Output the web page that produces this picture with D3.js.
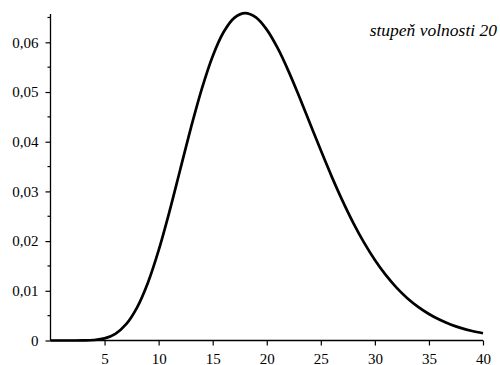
<!DOCTYPE html>
<html><head><meta charset="utf-8">
<script src="https://cdn.jsdelivr.net/npm/d3@7"></script>
</head><body style="margin:0">
<svg id="c" width="500" height="365" font-family="Liberation Serif"></svg>
<script>
const xs = [0,1,2,3,4,5,6,7,8,9,10,11,12,13,14,15,16,17,18,19,20,21,22,23,24,25,26,27,28,29,30,31,32,33,34,35,36,37,38,39,40];
const ys = [0,0,0.0000005,0.0000118,0.0000953,0.000431,0.00135,0.00328,0.00662,0.01158,0.01813,0.02593,0.03441,0.04290,0.05070,0.05722,0.06203,0.06493,0.06587,0.06500,0.06255,0.05886,0.05426,0.04910,0.04368,0.03826,0.03303,0.02814,0.02367,0.01969,0.01620,0.01320,0.01065,0.00852,0.00677,0.00533,0.00416,0.00323,0.00249,0.00191,0.00145];
const xTicks = [5,10,15,20,25,30,35,40];
const yTicks = [0,0.01,0.02,0.03,0.04,0.05,0.06];
const yMinor = [0.005,0.015,0.025,0.035,0.045,0.055,0.065];
const title = "stupeň volnosti 20";

const FONT = "Liberation Serif";
const svg = d3.select("#c");
const x = d3.scaleLinear().domain([0,40]).range([50.5,483]);
const y = d3.scaleLinear().domain([0,0.0657]).range([340.5,14]);

// x axis
const gx = svg.append("g").attr("transform","translate(0,340.5)")
  .call(d3.axisBottom(x).tickValues(xTicks).tickSize(5).tickFormat(d3.format("d")));
gx.attr("font-family",FONT).style("font-family",FONT);
gx.select(".domain").attr("d", `M${x(0)},0H${x(40)}`).attr("stroke","#000").attr("stroke-width",1.3);
gx.selectAll("text").attr("font-family",FONT).style("font-family",FONT).attr("font-size",15).attr("fill","#000")
  .attr("dy",null).attr("y",23);
gx.selectAll("line").attr("stroke-width",1.2);

// y axis
const fmt = d => d===0 ? "0" : d3.format(".2f")(d).replace(".",",");
const gy = svg.append("g").attr("transform","translate(50.5,0)")
  .call(d3.axisLeft(y).tickValues(yTicks).tickSize(5).tickPadding(7).tickFormat(fmt));
gy.attr("font-family",FONT).style("font-family",FONT);
gy.select(".domain").attr("d", `M0,${y(0)}V${y(0.0657)}`).attr("stroke","#000").attr("stroke-width",1.3);
gy.selectAll("text").attr("font-family",FONT).style("font-family",FONT).attr("font-size",15).attr("fill","#000");
gy.selectAll("line").attr("stroke-width",1.2);
svg.append("g").attr("transform","translate(50.5,0)")
  .selectAll("line").data(yMinor).join("line")
  .attr("x1",-3).attr("x2",0).attr("y1",d=>y(d)).attr("y2",d=>y(d))
  .attr("stroke","#000").attr("stroke-width",1.2);

// curve
const data = xs.map((v,i)=>[v,ys[i]]);
svg.append("path").datum(data)
  .attr("d", d3.line().x(d=>x(d[0])).y(d=>y(d[1])).curve(d3.curveCatmullRom))
  .attr("fill","none").attr("stroke","#000").attr("stroke-width",2.7);

svg.append("text").attr("x",497).attr("y",36).attr("text-anchor","end")
  .attr("font-family",FONT).style("font-family",FONT)
  .attr("font-style","italic").attr("font-size",17.5).text(title);
</script>
</body></html>
